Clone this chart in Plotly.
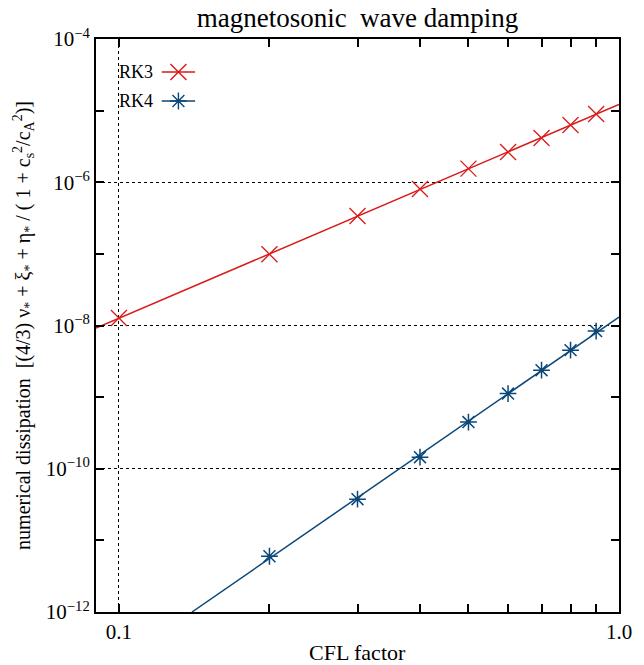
import plotly.graph_objects as go

# ---- data ----
cfl = [0.1, 0.2, 0.3, 0.4, 0.5, 0.6, 0.7, 0.8, 0.9]
rk3 = [1.27e-8, 9.9e-8, 3.37e-7, 8.04e-7, 1.55e-6, 2.64e-6, 4.14e-6, 6.29e-6, 8.97e-6]
cfl4 = [0.2, 0.3, 0.4, 0.5, 0.6, 0.7, 0.8, 0.9]
rk4 = [6.0e-12, 3.76e-11, 1.45e-10, 4.48e-10, 1.12e-9, 2.38e-9, 4.53e-9, 8.35e-9]
# fitted power-law lines (end points)
fit3_x = [0.09, 1.0]
fit3_y = [9.2e-9, 1.22e-5]
fit4_x = [0.14, 1.0]
fit4_y = [1.0e-12, 1.31e-8]

xtick_vals = [0.1, 1.0]
xtick_text = ["0.1", "1.0"]
xminor_vals = [0.2, 0.3, 0.4, 0.5, 0.6, 0.7, 0.8, 0.9]
ytick_vals = [1e-4, 1e-6, 1e-8, 1e-10, 1e-12]
ytick_text = ["10<sup>\u22124</sup>", "10<sup>\u22126</sup>", "10<sup>\u22128</sup>",
              "10<sup>\u221210</sup>", "10<sup>\u221212</sup>"]
yminor_vals = [1e-5, 1e-7, 1e-9, 1e-11]

RED = "#d81a18"
BLUE = "#0a4778"
FONT = "Liberation Serif"

fig = go.Figure()
fig.add_trace(go.Scatter(x=fit3_x, y=fit3_y, mode="lines",
                         line=dict(color=RED, width=1.5), showlegend=False))
fig.add_trace(go.Scatter(x=cfl, y=rk3, mode="markers",
                         marker=dict(symbol="x-thin", size=16, line=dict(color=RED, width=1.3)),
                         showlegend=False))
fig.add_trace(go.Scatter(x=fit4_x, y=fit4_y, mode="lines",
                         line=dict(color=BLUE, width=1.5), showlegend=False))
fig.add_trace(go.Scatter(x=cfl4, y=rk4, mode="markers",
                         marker=dict(symbol="asterisk", size=14, line=dict(color=BLUE, width=1.5)),
                         showlegend=False))

# legend samples on an overlay axis (unit coordinates)
leg_y = [0.9424, 0.8918]
leg_names = ["RK3", "RK4"]
leg_cols = [RED, BLUE]
leg_syms = ["x-thin", "asterisk"]
leg_sizes = [16, 14]
for yy, nm, col, sym, sz in zip(leg_y, leg_names, leg_cols, leg_syms, leg_sizes):
    fig.add_trace(go.Scatter(x=[0.1257, 0.1895], y=[yy, yy], mode="lines",
                             line=dict(color=col, width=1.5), xaxis="x2", yaxis="y2",
                             showlegend=False, hoverinfo="skip"))
    fig.add_trace(go.Scatter(x=[0.1576], y=[yy], mode="markers",
                             marker=dict(symbol=sym, size=sz, line=dict(color=col, width=1.4)),
                             xaxis="x2", yaxis="y2", showlegend=False, hoverinfo="skip"))
    fig.add_annotation(x=0.1125, y=yy, xref="x2", yref="y2", text=nm, showarrow=False,
                       xanchor="right", yanchor="middle",
                       font=dict(family=FONT, size=18, color="black"))

axis_common = dict(
    type="log", showline=True, linecolor="black", linewidth=2, mirror="allticks",
    ticks="inside", ticklen=8, tickwidth=1.5, tickcolor="black",
    showgrid=True, gridcolor="black", griddash="dot", gridwidth=1,
    zeroline=False, tickfont=dict(family=FONT, size=21, color="black"),
)

fig.update_layout(
    width=644, height=665,
    margin=dict(l=96, r=15, t=39, b=53),
    paper_bgcolor="white", plot_bgcolor="white",
    showlegend=False,
    title=dict(text="magnetosonic\u00a0 wave damping", x=0.5, xref="paper",
               y=1 - 18 / 665, yanchor="middle", xanchor="center",
               font=dict(family=FONT, size=27, color="black")),
    xaxis=dict(range=[-1.0458, 0], tickmode="array", tickvals=xtick_vals, ticktext=xtick_text,
               minor=dict(tickmode="array", tickvals=xminor_vals, ticks="inside", ticklen=8,
                          tickwidth=1.5, tickcolor="black", showgrid=False),
               **axis_common),
    yaxis=dict(range=[-12, -4], tickmode="array", tickvals=ytick_vals, ticktext=ytick_text,
               minor=dict(tickmode="array", tickvals=yminor_vals, ticks="inside", ticklen=8,
                          tickwidth=1.5, tickcolor="black", showgrid=False),
               **axis_common),
    xaxis2=dict(overlaying="x", range=[0, 1], visible=False, fixedrange=True),
    yaxis2=dict(overlaying="y", range=[0, 1], visible=False, fixedrange=True),
)

fig.add_annotation(x=0.5, y=-40 / 573, xref="paper", yref="paper", text="CFL factor",
                   showarrow=False, xanchor="center", yanchor="middle",
                   font=dict(family=FONT, size=22, color="black"))
fig.add_annotation(x=-74 / 533, y=0.5, xref="paper", yref="paper", textangle=-90,
                   text="numerical dissipation\u00a0 [(4/3) \u03bd<sub>*</sub> + \u03be<sub>*</sub> + "
                        "\u03b7<sub>*</sub> / ( 1 + c<sub>s</sub><sup>2</sup>/c<sub>A</sub><sup>2</sup>)]",
                   showarrow=False, xanchor="center", yanchor="middle",
                   font=dict(family=FONT, size=20, color="black"))

fig.write_html("out.html")
